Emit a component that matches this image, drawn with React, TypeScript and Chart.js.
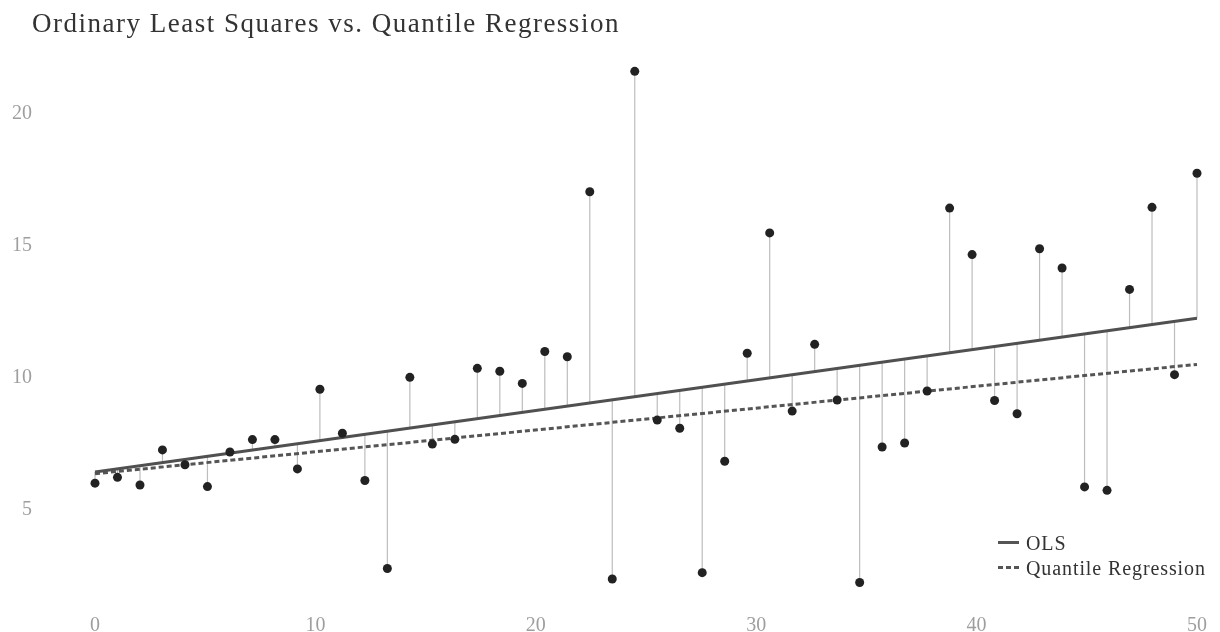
import React, { useEffect, useRef } from "react";
import { Chart, registerables } from "chart.js";

Chart.register(...registerables);

const titleText = "Ordinary Least Squares vs. Quantile Regression";
const legendLabels = ["OLS", "Quantile Regression"];

const xValues = [
  0, 1.02, 2.041, 3.061, 4.082, 5.102, 6.122, 7.143, 8.163, 9.184,
  10.204, 11.224, 12.245, 13.265, 14.286, 15.306, 16.327, 17.347, 18.367, 19.388,
  20.408, 21.429, 22.449, 23.469, 24.49, 25.51, 26.531, 27.551, 28.571, 29.592,
  30.612, 31.633, 32.653, 33.673, 34.694, 35.714, 36.735, 37.755, 38.776, 39.796,
  40.816, 41.837, 42.857, 43.878, 44.898, 45.918, 46.939, 47.959, 48.98, 50,
];

const yValues = [
  5.94, 6.16, 5.87, 7.2, 6.64, 5.81, 7.12, 7.59, 7.59, 6.48,
  9.5, 7.83, 6.04, 2.71, 9.95, 7.42, 7.6, 10.29, 10.18, 9.72,
  10.93, 10.73, 16.98, 2.31, 21.54, 8.33, 8.02, 2.55, 6.77, 10.86,
  15.42, 8.67, 11.2, 9.09, 2.18, 7.31, 7.46, 9.43, 16.36, 14.6,
  9.07, 8.57, 14.82, 14.09, 5.8, 5.67, 13.28, 16.39, 10.05, 17.68,
];

// fitted lines, read at x = 0 and x = 50
const olsEnds = [6.36, 12.19];
const qrEnds = [6.3, 10.44];

const xTicks = [0, 10, 20, 30, 40, 50];
const yTicks = [5, 10, 15, 20];

const SERIF = "'Liberation Serif', 'Times New Roman', serif";

export default function App() {
  const canvasRef = useRef<HTMLCanvasElement | null>(null);

  useEffect(() => {
    const canvas = canvasRef.current;
    if (!canvas) return;
    const xMin = xTicks[0];
    const xMax = xTicks[xTicks.length - 1];
    const olsAt = (x: number) =>
      olsEnds[0] + ((olsEnds[1] - olsEnds[0]) * (x - xMin)) / (xMax - xMin);

    const points = xValues.map((x, i) => ({ x, y: yValues[i] }));
    const residuals: { x: number; y: number | null }[] = [];
    xValues.forEach((x, i) => {
      residuals.push({ x, y: yValues[i] });
      residuals.push({ x, y: olsAt(x) });
      residuals.push({ x, y: null });
    });

    const chart = new Chart(canvas, {
      type: "scatter",
      data: {
        datasets: [
          {
            label: "data",
            data: points,
            pointRadius: 4.5,
            pointBackgroundColor: "#222222",
            pointBorderWidth: 0,
            showLine: false,
            clip: false,
          } as any,
          {
            label: legendLabels[0],
            data: [
              { x: xMin, y: olsEnds[0] },
              { x: xMax, y: olsEnds[1] },
            ],
            showLine: true,
            borderColor: "#505050",
            borderWidth: 3,
            pointRadius: 0,
            clip: false,
          },
          {
            label: legendLabels[1],
            data: [
              { x: xMin, y: qrEnds[0] },
              { x: xMax, y: qrEnds[1] },
            ],
            showLine: true,
            borderColor: "#555555",
            borderWidth: 3,
            borderDash: [5, 3],
            pointRadius: 0,
            clip: false,
          },
          {
            label: "residuals",
            data: residuals,
            showLine: true,
            spanGaps: false,
            borderColor: "#bdbdbd",
            borderWidth: 1.2,
            pointRadius: 0,
            clip: false,
          } as any,
        ],
      },
      options: {
        animation: false,
        responsive: false,
        layout: { padding: { left: 0, top: 60, right: 23, bottom: 0 } },
        plugins: {
          legend: { display: false },
          tooltip: { enabled: false },
          title: { display: false },
        },
        scales: {
          x: {
            type: "linear",
            min: xMin,
            max: xMax,
            afterBuildTicks: (axis: any) => {
              axis.ticks = xTicks.map((v) => ({ value: v }));
            },
            afterFit: (s: any) => {
              s.height = 32;
              s.paddingLeft = 0;
              s.paddingRight = 0;
            },
            grid: { display: false, drawTicks: false },
            border: { display: false },
            ticks: {
              padding: 14,
              color: "#9e9e9e",
              font: { family: SERIF, size: 20 },
              maxRotation: 0,
            },
          },
          y: {
            type: "linear",
            min: 1.515,
            max: 21.97,
            afterBuildTicks: (axis: any) => {
              axis.ticks = yTicks.map((v) => ({ value: v }));
            },
            afterFit: (s: any) => {
              s.width = 95;
              s.paddingTop = 0;
              s.paddingBottom = 0;
            },
            grid: { display: false, drawTicks: false },
            border: { display: false },
            ticks: {
              padding: 63,
              labelOffset: 2,
              color: "#9e9e9e",
              font: { family: SERIF, size: 20 },
            },
          },
        },
      },
    });
    return () => chart.destroy();
  }, []);

  const legendText: React.CSSProperties = {
    position: "absolute",
    left: 1026,
    fontFamily: SERIF,
    fontSize: 20,
    lineHeight: "20px",
    letterSpacing: "0.9px",
    color: "#333333",
    whiteSpace: "nowrap",
  };

  return (
    <div
      style={{
        position: "fixed",
        left: 0,
        top: 0,
        width: 1220,
        height: 632,
        background: "#ffffff",
        overflow: "hidden",
      }}
    >
      <canvas ref={canvasRef} width={1220} height={632} style={{ position: "absolute", left: 0, top: 0 }} />
      <div
        style={{
          position: "absolute",
          left: 32,
          top: 10,
          fontFamily: SERIF,
          fontSize: 27,
          lineHeight: "27px",
          letterSpacing: "1.5px",
          color: "#333333",
          whiteSpace: "nowrap",
        }}
      >
        {titleText}
      </div>
      <div style={{ position: "absolute", left: 998, top: 541, width: 21, height: 3, background: "#555555" }} />
      <div style={{ ...legendText, top: 533 }}>{legendLabels[0]}</div>
      <div
        style={{
          position: "absolute",
          left: 998,
          top: 566,
          width: 21,
          height: 3,
          background: "repeating-linear-gradient(90deg, #555555 0 5px, transparent 5px 8px)",
        }}
      />
      <div style={{ ...legendText, top: 558 }}>{legendLabels[1]}</div>
    </div>
  );
}
